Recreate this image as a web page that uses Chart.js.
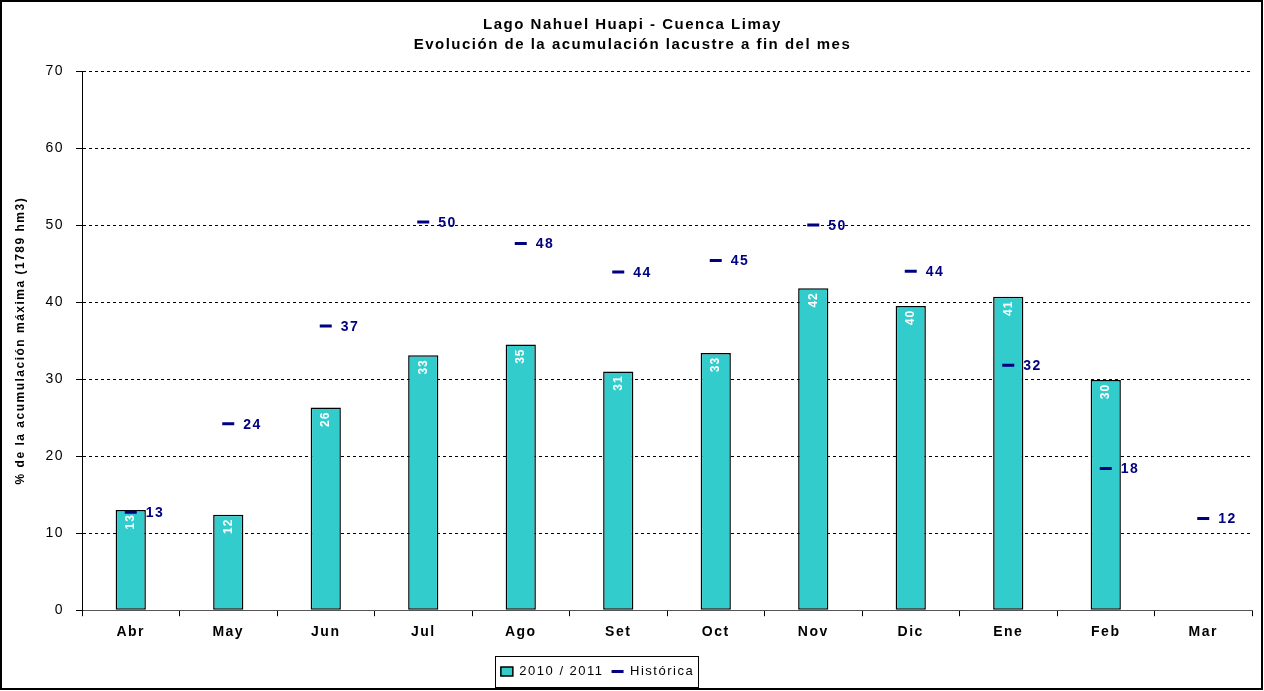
<!DOCTYPE html>
<html lang="es">
<head>
  <meta charset="UTF-8">
  <title>Lago Nahuel Huapi - Cuenca Limay</title>
  <style>
    body { margin: 0; background: #fff; }
    #wrap { width: 1264px; height: 691px; }
  </style>
  <script src="https://cdn.jsdelivr.net/npm/chart.js"></script>
</head>
<body>
  <div id="wrap"><canvas id="chart" width="1264" height="691"></canvas></div>
  <script>
    // datos
    const meses = ['Abr', 'May', 'Jun', 'Jul', 'Ago', 'Set', 'Oct', 'Nov', 'Dic', 'Ene', 'Feb', 'Mar'];
    const temporada = [13.0, 12.4, 26.3, 33.1, 34.5, 31.0, 33.4, 41.8, 39.5, 40.7, 29.9, null];
    const historica = [12.7, 24.2, 36.9, 50.4, 47.6, 43.9, 45.4, 50.0, 44.0, 31.8, 18.4, 11.9];
    const yTicks = [0, 10, 20, 30, 40, 50, 60, 70];

    const FONT = 'Arial, "Liberation Sans", sans-serif';
    const SPACING = '1.5px';

    // espaciado de letras como en el original (Excel)
    const espaciado = {
      id: 'espaciado',
      beforeLayout(chart) { chart.ctx.letterSpacing = SPACING; },
      afterLayout(chart) {
        // la leyenda del original esta algo corrida a la izquierda
        if (chart.legend) {
          chart.legend.left -= 35;
          chart.legend.right -= 35;
        }
      },
      beforeDraw(chart) { chart.ctx.letterSpacing = SPACING; }
    };

    // etiquetas de valores y recuadros
    const etiquetas = {
      id: 'etiquetas',
      afterDatasetsDraw(chart) {
        const ctx = chart.ctx;
        const barras = chart.getDatasetMeta(0).data;
        const marcas = chart.getDatasetMeta(1).data;
        ctx.save();
        ctx.letterSpacing = '1px';
        ctx.font = 'bold 12px ' + FONT;
        ctx.fillStyle = '#ffffff';
        barras.forEach((b, i) => {
          if (temporada[i] == null) return;
          ctx.save();
          ctx.translate(b.x, b.y + 4);
          ctx.rotate(-Math.PI / 2);
          ctx.textAlign = 'right';
          ctx.textBaseline = 'middle';
          ctx.fillText(Math.round(temporada[i]), 0, 0);
          ctx.restore();
        });
        ctx.letterSpacing = '1.5px';
        ctx.font = 'bold 14px ' + FONT;
        ctx.fillStyle = '#000080';
        ctx.textAlign = 'left';
        ctx.textBaseline = 'middle';
        marcas.forEach((p, i) => {
          ctx.fillText(Math.round(historica[i]), p.x + 15, p.y + 1);
        });
        ctx.restore();
      },
      afterDraw(chart) {
        const ctx = chart.ctx;
        const lg = chart.legend;
        ctx.save();
        ctx.strokeStyle = '#000';
        ctx.lineWidth = 1;
        if (lg && lg.legendHitBoxes && lg.legendHitBoxes.length) {
          const hb = lg.legendHitBoxes;
          const x0 = Math.min(...hb.map(h => h.left)) - 6;
          const x1 = Math.max(...hb.map(h => h.left + h.width)) + 4;
          const y0 = Math.min(...hb.map(h => h.top)) - 9;
          const y1 = Math.max(...hb.map(h => h.top + h.height)) + 9;
          ctx.strokeRect(Math.round(x0) + 0.5, Math.round(y0) + 0.5, Math.round(x1 - x0), Math.round(y1 - y0));
        }
        ctx.lineWidth = 2;
        ctx.strokeRect(1, 1, chart.width - 3, chart.height - 3);
        ctx.restore();
      }
    };

    const ctx = document.getElementById('chart').getContext('2d');
    const chart = new Chart(ctx, {
      data: {
        labels: meses,
        datasets: [
          {
            type: 'bar',
            label: '2010 / 2011',
            data: temporada,
            backgroundColor: '#33CCCC',
            borderColor: '#000000',
            borderWidth: 1.5,
            borderSkipped: false,
            barPercentage: 0.31,
            categoryPercentage: 1,
            pointStyle: 'rect',
            order: 2
          },
          {
            type: 'line',
            label: 'Histórica',
            data: historica,
            showLine: false,
            pointStyle: 'line',
            pointRadius: 6,
            pointHoverRadius: 6,
            borderColor: '#000080',
            backgroundColor: '#000080',
            borderWidth: 3,
            order: 1
          }
        ]
      },
      plugins: [espaciado, etiquetas],
      options: {
        responsive: false,
        animation: false,
        layout: { padding: { top: 6, left: 13, right: 12, bottom: 3 } },
        plugins: {
          title: {
            display: true,
            text: ['Lago Nahuel Huapi - Cuenca Limay', 'Evolución de la acumulación lacustre a fin del mes'],
            color: '#000',
            font: { family: FONT, size: 15, weight: 'bold', lineHeight: 20 / 15 },
            padding: { top: 9, bottom: 16 }
          },
          legend: {
            display: true,
            position: 'bottom',
            labels: {
              usePointStyle: true,
              pointStyleWidth: 12,
              boxHeight: 9,
              color: '#000',
              padding: 8,
              font: { family: FONT, size: 13 },
              sort: (a, b) => a.datasetIndex - b.datasetIndex
            }
          },
          tooltip: { enabled: false }
        },
        scales: {
          x: {
            offset: true,
            grid: {
              offset: true,
              drawOnChartArea: false,
              color: '#000',
              tickLength: 6
            },
            border: { color: '#555', width: 1 },
            ticks: {
              color: '#000',
              padding: 8,
              font: { family: FONT, size: 14, weight: 'bold' }
            },
            afterFit: (s) => { s.height += 8; }
          },
          y: {
            min: 0,
            max: 70,
            afterBuildTicks: (s) => { s.ticks = yTicks.map(v => ({ value: v })); },
            afterFit: (s) => { s.width = 69; },
            title: {
              display: true,
              text: '% de la acumulación máxima (1789 hm3)',
              color: '#000',
              font: { family: FONT, size: 12, weight: 'bold' },
              padding: { top: 0, bottom: 8 }
            },
            grid: {
              color: '#000',
              lineWidth: 1,
              tickLength: 6
            },
            border: { color: '#000', width: 1, dash: [3, 3] },
            ticks: {
              color: '#000',
              padding: 12,
              font: { family: FONT, size: 14 }
            }
          }
        }
      }
    });
  </script>
</body>
</html>
